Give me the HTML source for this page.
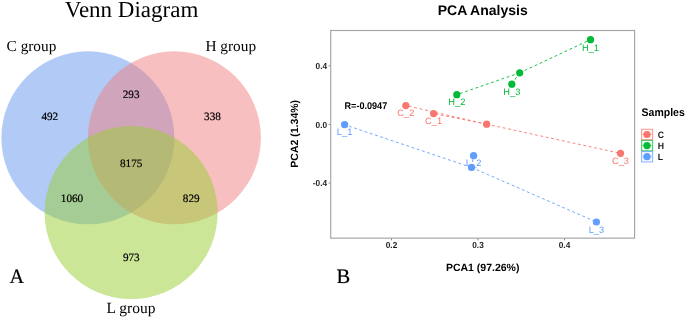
<!DOCTYPE html>
<html><head><meta charset="utf-8">
<style>
html,body{margin:0;padding:0;background:#fff;width:685px;height:317px;overflow:hidden}
svg{display:block;will-change:transform;text-rendering:geometricPrecision}
.sf{font-family:"Liberation Serif",serif;fill:#000}
.ss{font-family:"Liberation Sans",sans-serif}
.b{font-weight:bold}
</style></head>
<body>
<svg width="685" height="317" viewBox="0 0 685 317">
<rect x="0" y="0" width="685" height="317" fill="#fff"/>
<!-- Venn -->
<g>
<circle cx="87.9" cy="137.8" r="86.5" fill="#6495ED" fill-opacity="0.5"/>
<circle cx="174.4" cy="137.8" r="86.5" fill="#F08080" fill-opacity="0.5"/>
<circle cx="131.15" cy="212.6" r="86.5" fill="#9ACD32" fill-opacity="0.5"/>
</g>
<text class="sf" x="131.6" y="17" font-size="23" text-anchor="middle">Venn Diagram</text>
<text class="sf" font-size="15.3" transform="translate(6.6,50.8)">C group</text>
<text class="sf" font-size="15.3" transform="translate(205.5,51)">H group</text>
<text class="sf" font-size="15.5" transform="translate(106.6,312.5)">L group</text>
<g class="sf" font-size="11.2" text-anchor="middle" stroke="#000" stroke-width="0.2">
<text transform="translate(49.8,120)">492</text>
<text transform="translate(131.1,97.9)">293</text>
<text transform="translate(212.5,119.9)">338</text>
<text transform="translate(131.15,167)">8175</text>
<text transform="translate(72,201.8)">1060</text>
<text transform="translate(191.25,201.8)">829</text>
<text transform="translate(131.3,260.9)">973</text>
</g>
<text class="sf" x="9.4" y="283.2" font-size="20.3" stroke="#000" stroke-width="0.2">A</text>
<text class="sf" x="336.5" y="282.9" font-size="20.5" stroke="#000" stroke-width="0.2">B</text>

<!-- PCA -->
<text class="ss b" x="482.7" y="15.2" font-size="14" text-anchor="middle">PCA Analysis</text>
<rect x="330.7" y="30.5" width="303.9" height="207.65" fill="none" stroke="#a4a4a4" stroke-width="1.15"/>
<g stroke="#707070" stroke-width="0.85">
<line x1="328.6" y1="65.8" x2="330.2" y2="65.8"/>
<line x1="328.6" y1="124.4" x2="330.2" y2="124.4"/>
<line x1="328.6" y1="183.05" x2="330.2" y2="183.05"/>
<line x1="391.5" y1="238.6" x2="391.5" y2="240.3"/>
<line x1="478" y1="238.6" x2="478" y2="240.3"/>
<line x1="564.5" y1="238.6" x2="564.5" y2="240.3"/>
</g>
<g class="ss b" font-size="8.3" fill="#1a1a1a">
<text transform="translate(327.1,69.1) scale(1,1.05)" text-anchor="end">0.4</text>
<text transform="translate(327.1,127.7) scale(1,1.05)" text-anchor="end">0.0</text>
<text transform="translate(327.1,186.4) scale(1,1.05)" text-anchor="end">-0.4</text>
<text transform="translate(391.5,247.8) scale(1,1.05)" text-anchor="middle">0.2</text>
<text transform="translate(478,247.8) scale(1,1.05)" text-anchor="middle">0.3</text>
<text transform="translate(564.5,247.8) scale(1,1.05)" text-anchor="middle">0.4</text>
</g>
<text class="ss b" x="482.7" y="270.8" font-size="10.5" text-anchor="middle">PCA1 (97.26%)</text>
<text class="ss b" font-size="10.5" text-anchor="middle" transform="translate(298,133.8) rotate(-90)">PCA2 (1.34%)</text>
<text class="ss b" font-size="9.1" transform="translate(344.5,108.8) scale(1,1.07)">R=-0.0947</text>

<!-- dashed lines -->
<g fill="none" stroke-width="0.9" stroke-dasharray="2.8 2.7">
<g stroke="#F8766D">
<line x1="486.63" y1="124.17" x2="433.6" y2="113.6"/>
<line x1="486.63" y1="124.17" x2="405.8" y2="105.55"/>
<line x1="486.63" y1="124.17" x2="620.5" y2="153.35"/>
</g>
<g stroke="#00BA38">
<line x1="519.70" y1="72.82" x2="590.5" y2="39.65"/>
<line x1="519.70" y1="72.82" x2="456.8" y2="94.65"/>
<line x1="519.70" y1="72.82" x2="511.8" y2="84.15"/>
</g>
<g stroke="#619CFF">
<line x1="471.53" y1="167.45" x2="344.6" y2="124.7"/>
<line x1="471.53" y1="167.45" x2="473.6" y2="155.65"/>
<line x1="471.53" y1="167.45" x2="596.4" y2="222.0"/>
</g>
</g>
<!-- labels -->
<g class="ss" font-size="9.3" text-anchor="middle">
<g fill="#F8766D">
<text transform="translate(433.6,124.4)">C_1</text>
<text transform="translate(405.8,116.3)">C_2</text>
<text transform="translate(620.5,163.9)">C_3</text>
</g>
<g fill="#00BA38">
<text transform="translate(590.5,50.75)">H_1</text>
<text transform="translate(456.8,105.2)">H_2</text>
<text transform="translate(511.8,94.75)">H_3</text>
</g>
<g fill="#619CFF">
<text transform="translate(344.6,135.0)">L_1</text>
<text transform="translate(473.6,166.2)">L_2</text>
<text transform="translate(596.4,232.75)">L_3</text>
</g>
</g>
<!-- points -->
<g fill="#F8766D">
<circle cx="433.6" cy="113.6" r="3.6"/>
<circle cx="405.8" cy="105.55" r="3.6"/>
<circle cx="620.5" cy="153.35" r="3.6"/>
<circle cx="486.63" cy="124.17" r="3.6"/>
</g>
<g fill="#00BA38">
<circle cx="590.5" cy="39.65" r="3.6"/>
<circle cx="456.8" cy="94.65" r="3.6"/>
<circle cx="511.8" cy="84.15" r="3.6"/>
<circle cx="519.70" cy="72.82" r="3.6"/>
</g>
<g fill="#619CFF">
<circle cx="344.6" cy="124.7" r="3.6"/>
<circle cx="473.6" cy="155.65" r="3.6"/>
<circle cx="596.4" cy="222.0" r="3.6"/>
<circle cx="471.53" cy="167.45" r="3.6"/>
</g>

<!-- legend -->
<text class="ss b" font-size="10.5" transform="translate(641.6,115.6) scale(1,1.06)">Samples</text>
<g stroke-width="1.1">
<rect x="641.6" y="129.3" width="11" height="10.4" fill="#F8766D" fill-opacity="0.06" stroke="#F8766D" stroke-opacity="0.7"/>
<rect x="641.6" y="140.4" width="11" height="10.4" fill="#00BA38" fill-opacity="0.06" stroke="#00BA38" stroke-opacity="0.7"/>
<rect x="641.6" y="151.5" width="11" height="10.4" fill="#619CFF" fill-opacity="0.06" stroke="#619CFF" stroke-opacity="0.7"/>
</g>
<g stroke-width="0.8">
<line x1="642.6" y1="134.5" x2="651.6" y2="134.5" stroke="#F8766D"/>
<line x1="642.6" y1="145.6" x2="651.6" y2="145.6" stroke="#00BA38"/>
<line x1="642.6" y1="156.7" x2="651.6" y2="156.7" stroke="#619CFF"/>
</g>
<circle cx="647" cy="134.5" r="3.6" fill="#F8766D"/>
<circle cx="647" cy="145.6" r="3.6" fill="#00BA38"/>
<circle cx="647" cy="156.7" r="3.6" fill="#619CFF"/>
<g class="ss b" font-size="8.7" fill="#1a1a1a">
<text transform="translate(657.7,137.7) scale(1,1.06)">C</text>
<text transform="translate(657.7,148.7) scale(1,1.06)">H</text>
<text transform="translate(657.7,159.8) scale(1,1.06)">L</text>
</g>
</svg>
</body></html>
